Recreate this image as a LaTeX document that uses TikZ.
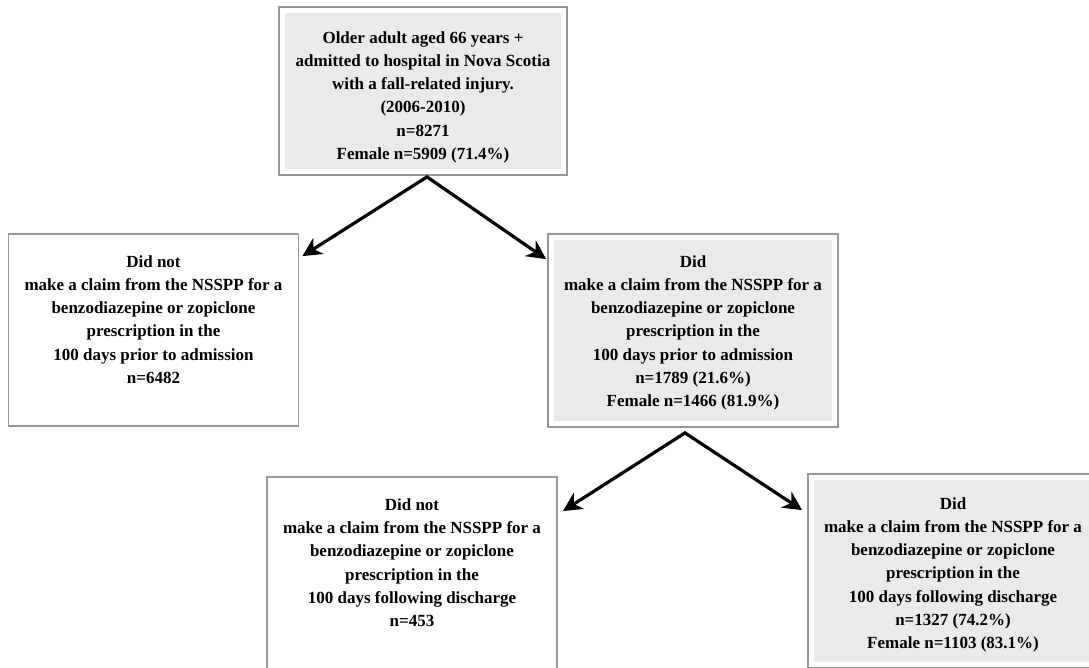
\documentclass[tikz,border=0pt]{standalone}
\usepackage{fontspec}
\setmainfont{Liberation Serif}
\usetikzlibrary{calc,arrows.meta,positioning}
\definecolor{boxline}{RGB}{150,150,150}
\definecolor{boxfill}{RGB}{234,234,234}

\begin{document}
\begin{tikzpicture}[x=1pt,y=-1pt,
  flowbox/.style={draw=boxline, line width=1.8pt, fill=white, minimum width=290pt, inner sep=0pt},
  shadedbox/.style={flowbox, path picture={
     \fill[boxfill] ($(path picture bounding box.north west)+(6pt,-6pt)$)
        rectangle ($(path picture bounding box.south east)+(-6pt,6pt)$);}},
  boxtext/.style={align=center, inner sep=0pt, font=\fontsize{17}{23.3}\selectfont\bfseries},
  split/.style={line width=3.2pt, line join=miter,
     {Stealth[length=19pt,width=19pt,inset=6pt]}-{Stealth[length=19pt,width=19pt,inset=6pt]}}]
  % page = 1089 x 668 px, y runs downwards
  \useasboundingbox (0,0) rectangle (1089,668);
  \clip (0,0) rectangle (1089,668);

  % cohort
  \node[shadedbox, minimum width=288pt, minimum height=168pt] (cohort) at (423,91) {};
  \node[boxtext, below=25pt of cohort.north] (cohorttext)
     {Older adult aged 66 years +\\admitted to hospital in Nova Scotia\\with a fall-related injury.\\(2006-2010)\\n=8271\\Female n=5909 (71.4\%)};

  % before admission
  \node[flowbox, minimum height=192pt] (notbefore) at (153.5,330) {};
  \node[boxtext, below=22pt of notbefore.north] (notbeforetext)
     {Did not\\make a claim from the NSSPP for a\\benzodiazepine or zopiclone\\prescription in the\\100 days prior to admission\\n=6482};
  \node[shadedbox, minimum height=193pt] (didbefore) at (693,330.5) {};
  \node[boxtext, below=22pt of didbefore.north] (didbeforetext)
     {Did\\make a claim from the NSSPP for a\\benzodiazepine or zopiclone\\prescription in the\\100 days prior to admission\\n=1789 (21.6\%)\\Female n=1466 (81.9\%)};

  % following discharge
  \node[flowbox, minimum height=200pt] (notafter) at (412,577) {};
  \node[boxtext, below=22pt of notafter.north] (notaftertext)
     {Did not\\make a claim from the NSSPP for a\\benzodiazepine or zopiclone\\prescription in the\\100 days following discharge\\n=453};
  \node[shadedbox, minimum height=194pt] (didafter) at (953,571) {};
  \node[boxtext, below=24pt of didafter.north] (didaftertext)
     {Did\\make a claim from the NSSPP for a\\benzodiazepine or zopiclone\\prescription in the\\100 days following discharge\\n=1327 (74.2\%)\\Female n=1103 (83.1\%)};

  % arrows
  \draw[split] ([shift={(3pt,-23pt)}]notbefore.north east) -- ([shift={(4pt,-1pt)}]cohort.south)
     -- ([shift={(-1pt,-26pt)}]didbefore.north west);
  \draw[split] ([shift={(5pt,-35pt)}]notafter.north east) -- ([shift={(-8pt,-5pt)}]didbefore.south)
     -- ([shift={(-5pt,-37pt)}]didafter.north west);
\end{tikzpicture}
\end{document}
